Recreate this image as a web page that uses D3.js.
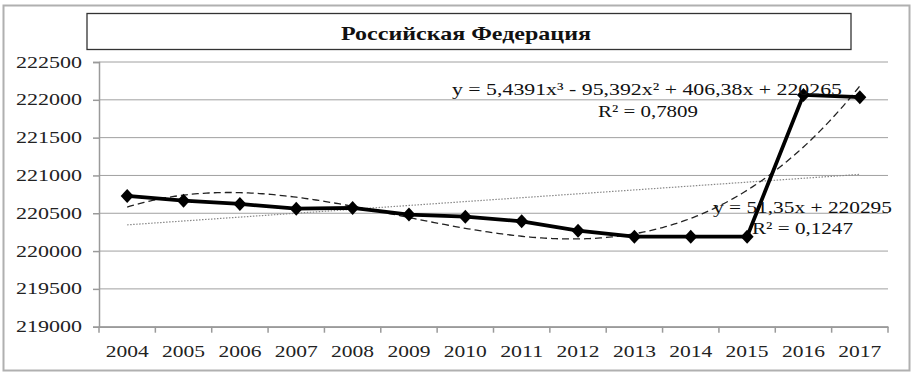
<!DOCTYPE html>
<html><head><meta charset="utf-8">
<script src="https://cdn.jsdelivr.net/npm/d3@7"></script>
<style>body{margin:0;background:#fff}</style>
</head><body>
<svg id="c" width="915" height="373"></svg>
<script>
const title = "Российская Федерация";
const years = ["2004","2005","2006","2007","2008","2009","2010","2011","2012","2013","2014","2015","2016","2017"];
const values = [220729,220667,220623,220561,220570,220482,220455,220394,220270,220191,220191,220191,222065,222035];
const yTicks = [219000,219500,220000,220500,221000,221500,222000,222500];
const cubicCoef = [5.4391,-95.392,406.38,220265];
const linearCoef = [51.35,220295];
const cubicLabel = ["y = 5,4391x³  - 95,392x²  + 406,38x  + 220265","R² = 0,7809"];
const linearLabel = ["y = 51,35x  + 220295","R² = 0,1247"];

const svg = d3.select("#c");
const serif = "'Liberation Serif','Times New Roman',serif";
const L = 99, R = 888, T = 62, B = 326.7;

// outer frame
svg.append("rect").attr("x",3.5).attr("y",5.5).attr("width",906).attr("height",365)
  .attr("fill","#fff").attr("stroke","#b0b0b0").attr("stroke-width",2);
// title box
svg.append("rect").attr("x",87).attr("y",13.5).attr("width",764).attr("height",36)
  .attr("fill","#fff").attr("stroke","#333").attr("stroke-width",1.3);
svg.append("text").attr("x",341).attr("y",39.5).attr("textLength",250).attr("lengthAdjust","spacingAndGlyphs")
  .attr("font-family",serif).attr("font-weight","bold").attr("font-size",19).attr("fill","#111").text(title);

const x = d3.scaleBand().domain(years).range([L,R]).padding(0);
const y = d3.scaleLinear().domain([219000,222500]).range([B,T]);
const xt = d3.scaleLinear().domain([1,years.length]).range([x(years[0])+x.bandwidth()/2, x(years[years.length-1])+x.bandwidth()/2]);

// gridlines
svg.append("g").selectAll("line").data(yTicks).join("line")
  .attr("x1",L).attr("x2",R).attr("y1",d=>y(d)).attr("y2",d=>y(d))
  .attr("stroke","#a0a0a0").attr("stroke-width",1);
// y axis
const ya = svg.append("g").attr("transform",`translate(${L},0)`)
  .call(d3.axisLeft(y).tickValues(yTicks).tickSize(6).tickFormat(""));
ya.selectAll("path,line").attr("stroke","#9a9a9a").attr("stroke-width",1.5);
svg.append("g").selectAll("text").data(yTicks).join("text")
  .attr("x",16).attr("y",d=>y(d)+5.5).attr("textLength",66).attr("lengthAdjust","spacingAndGlyphs")
  .attr("font-family",serif).attr("font-size",16).attr("fill","#222").text(d=>d);
// x axis
const xa = svg.append("g").attr("transform",`translate(0,${B})`)
  .call(d3.axisBottom(x).tickSize(0).tickFormat(""));
xa.select("path").attr("stroke","#9a9a9a").attr("stroke-width",1.5);
xa.selectAll(".tick").remove();
svg.append("g").selectAll("line").data(d3.range(years.length+1)).join("line")
  .attr("x1",i=>L+i*x.bandwidth()).attr("x2",i=>L+i*x.bandwidth())
  .attr("y1",B).attr("y2",B+6).attr("stroke","#9a9a9a").attr("stroke-width",1.5);
svg.append("g").selectAll("text").data(years).join("text")
  .attr("x",d=>x(d)+x.bandwidth()/2-21.5).attr("y",357).attr("textLength",43).attr("lengthAdjust","spacingAndGlyphs")
  .attr("font-family",serif).attr("font-size",16).attr("fill","#222").text(d=>d);

// trendlines
const ts = d3.range(1, years.length+0.001, 0.05);
const lin = t => linearCoef[0]*t + linearCoef[1];
const cub = t => cubicCoef[0]*t*t*t + cubicCoef[1]*t*t + cubicCoef[2]*t + cubicCoef[3];
svg.append("path").datum(ts).attr("fill","none").attr("stroke","#888").attr("stroke-width",1.2)
  .attr("stroke-dasharray","1.5,1.5")
  .attr("d",d3.line().x(t=>xt(t)).y(t=>y(lin(t))));
svg.append("path").datum(ts).attr("fill","none").attr("stroke","#222").attr("stroke-width",1.3)
  .attr("stroke-dasharray","7,4")
  .attr("d",d3.line().x(t=>xt(t)).y(t=>y(cub(t))));

// main series
svg.append("path").datum(values).attr("fill","none").attr("stroke","#000").attr("stroke-width",3.8)
  .attr("stroke-linejoin","round")
  .attr("d",d3.line().x((d,i)=>x(years[i])+x.bandwidth()/2).y(d=>y(d)));
svg.append("g").selectAll("path").data(values).join("path")
  .attr("transform",(d,i)=>`translate(${x(years[i])+x.bandwidth()/2},${y(d)})`)
  .attr("d","M0,-7L6.5,0L0,7L-6.5,0Z").attr("fill","#000");

// labels
function lab(txt,x0,yb,w){
  svg.append("text").attr("x",x0).attr("y",yb).attr("textLength",w).attr("lengthAdjust","spacingAndGlyphs")
    .attr("font-family",serif).attr("font-size",17).attr("fill","#111").text(txt);
}
lab(cubicLabel[0],452,95,390);
lab(cubicLabel[1],598,117,100);
lab(linearLabel[0],713,213,179);
lab(linearLabel[1],752,234,101);
</script>
</body></html>
